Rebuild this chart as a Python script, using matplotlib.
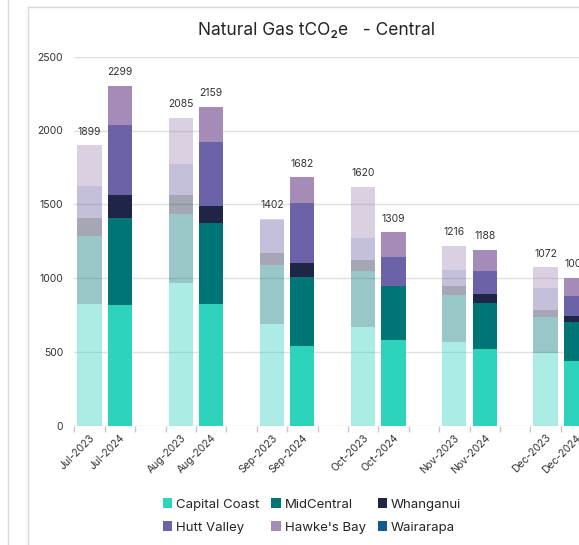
import matplotlib
matplotlib.use("Agg")
import matplotlib.pyplot as plt
from matplotlib.patches import Patch
from matplotlib.lines import Line2D
import numpy as np

plt.rcParams['font.family'] = ['Inter', 'DejaVu Sans']

months = ['Jul', 'Aug', 'Sep', 'Oct', 'Nov', 'Dec']
years = ['2023', '2024']
regions = ['Capital Coast', 'MidCentral', 'Whanganui', 'Hutt Valley', "Hawke's Bay", 'Wairarapa']

cc_2023 = [822, 964, 692, 669, 566, 493]
cc_2024 = [815, 824, 539, 584, 523, 437]
mc_2023 = [462, 469, 394, 376, 317, 246]
mc_2024 = [590, 546, 468, 360, 308, 264]
wh_2023 = [124, 130, 83, 81, 61, 43]
wh_2024 = [161, 116, 94, 0, 64, 42]
hv_2023 = [214, 212, 226, 149, 108, 153]
hv_2024 = [473, 438, 406, 196, 152, 135]
hb_2023 = [277, 310, 7, 345, 164, 137]
hb_2024 = [260, 235, 175, 169, 141, 125]
wa_2023 = [0, 0, 0, 0, 0, 0]
wa_2024 = [0, 0, 0, 0, 0, 0]

series_2023 = [cc_2023, mc_2023, wh_2023, hv_2023, hb_2023, wa_2023]
series_2024 = [cc_2024, mc_2024, wh_2024, hv_2024, hb_2024, wa_2024]
colors = ['#2ED3BC', '#007576', '#1E2547', '#6C62A8', '#A58BB8', '#125B8C']

W, H = 579, 545
fig = plt.figure(figsize=(W / 100, H / 100), dpi=100)
ax_left = 74.3 / W
ax_bottom = (H - 425.7) / H
ax_top = 1 - 56.7 / H
ax = fig.add_axes([ax_left, ax_bottom, 1 - ax_left, ax_top - ax_bottom])

slot = 30.4
n = len(months)
x23 = np.arange(n) * 3
x24 = np.arange(n) * 3 + 1
bw = 0.8

for xs, series, alpha in [(x23, series_2023, 0.4), (x24, series_2024, 1.0)]:
    bottom = np.zeros(n)
    for vals, c in zip(series, colors):
        v = np.array(vals, dtype=float)
        ax.bar(xs, v, bw, bottom=bottom, color=c, alpha=alpha, linewidth=0, zorder=3)
        bottom += v
    for xi, tot in zip(xs, bottom):
        ax.annotate(f"{int(tot)}", (xi, tot), xytext=(0, 10), textcoords='offset points',
                    ha='center', va='center', fontsize=7.5, color='#333333',
                    annotation_clip=False)

ax.set_yticks(np.arange(0, 2501, 500))
ax.yaxis.grid(True, color='#E0E0E0', linewidth=1, zorder=0)
ax.set_axisbelow(True)
for s in ax.spines.values():
    s.set_visible(False)
ax.tick_params(axis='y', length=0, pad=8, labelsize=7.5, labelcolor='#333333')

xpos = np.sort(np.concatenate([x23, x24]))
labels = []
for m in months:
    for y in years:
        labels.append(f"{m}-{y}")
ax.set_xticks(xpos)
ax.set_xticklabels(labels, rotation=45, ha='right', rotation_mode='anchor',
                   fontsize=7.5, color='#333333')
ax.tick_params(axis='x', length=0, pad=5)
ax.set_xticks(np.arange(-0.5, 3 * n, 1), minor=True)
ax.tick_params(axis='x', which='minor', length=4, color='#C8C8C8', width=1)

ax.set_ylim(0, 2500)
ax.set_xlim(-0.5, -0.5 + (W - 74.3) / slot)

fig.text(317 / W, 1 - 31 / H, "Natural Gas tCO₂e   - Central", ha='center', va='center',
         fontsize=12.5, color='#252423')

# card borders
fig.add_artist(Line2D([8 / W, 8 / W], [0, 1], color='#DADADA', lw=1))
fig.add_artist(Line2D([28 / W, 28 / W], [0, 1 - 7 / H], color='#DADADA', lw=1))
fig.add_artist(Line2D([28 / W, 1], [1 - 7 / H, 1 - 7 / H], color='#DADADA', lw=1))

handles = [Patch(facecolor=c, edgecolor='none') for c in colors]
order = [0, 3, 1, 4, 2, 5]
fig.legend([handles[i] for i in order], [regions[i] for i in order],
           loc='center', bbox_to_anchor=(312 / W, 1 - 516 / H), ncol=3, frameon=False,
           fontsize=9.5, handlelength=0.7, handleheight=0.7, handletextpad=0.3,
           columnspacing=0.9, labelspacing=0.8, labelcolor='#252423')

fig.savefig("out.png", dpi=100)
